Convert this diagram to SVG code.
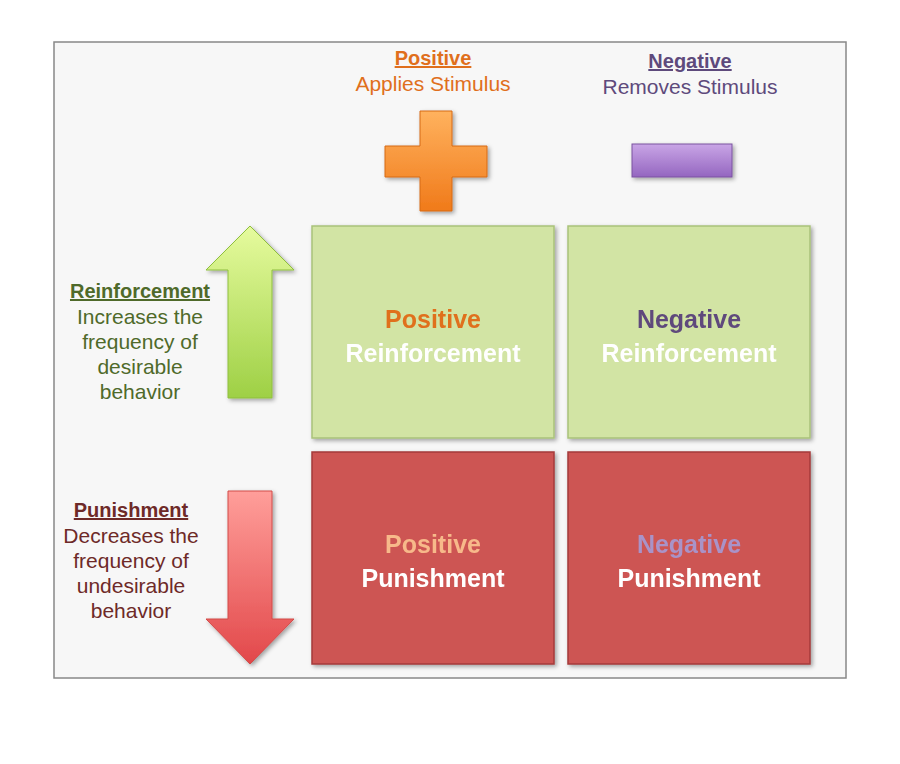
<svg xmlns="http://www.w3.org/2000/svg" width="900" height="764" viewBox="0 0 900 764">
<defs>
<linearGradient id="gOr" x1="0" y1="0" x2="0" y2="1"><stop offset="0" stop-color="#ffb25e"/><stop offset="1" stop-color="#f07a1a"/></linearGradient>
<linearGradient id="gPu" x1="0" y1="0" x2="0" y2="1"><stop offset="0" stop-color="#c9a5e6"/><stop offset="1" stop-color="#9466c0"/></linearGradient>
<linearGradient id="gGr" x1="0" y1="0" x2="0" y2="1"><stop offset="0" stop-color="#e6fb9e"/><stop offset="1" stop-color="#9ed045"/></linearGradient>
<linearGradient id="gRd" x1="0" y1="0" x2="0" y2="1"><stop offset="0" stop-color="#ff9e9a"/><stop offset="1" stop-color="#e2484a"/></linearGradient>
<filter id="sh" x="-10%" y="-10%" width="130%" height="130%"><feDropShadow dx="2" dy="2" stdDeviation="2" flood-opacity="0.35"/></filter>
</defs>
<style>
text{font-family:"Liberation Sans",Arial,sans-serif;text-anchor:middle}
.h{font-size:20px;font-weight:bold;text-decoration:underline}
.s{font-size:21px}
.b{font-size:25px;font-weight:bold}
.green{fill:#d2e4a4;stroke:#a9c27a;stroke-width:1.5}
.red{fill:#cd5553;stroke:#a43b3a;stroke-width:1.5}
</style>
<rect width="900" height="764" fill="#ffffff"/>
<rect x="54" y="42" width="792" height="636" fill="#f7f7f7" stroke="#888" stroke-width="1.5"/>
<g id="positive-header"><text x="433" y="65" class="h" fill="#e06f1c">Positive</text><text x="433" y="91" class="s" fill="#e06f1c">Applies Stimulus</text></g>
<g id="negative-header"><text x="690" y="68" class="h" fill="#5e4a7c">Negative</text><text x="690" y="94" class="s" fill="#5e4a7c">Removes Stimulus</text></g>
<g id="plus" filter="url(#sh)"><path d="M420 111H452V146H487V177H452V211H420V177H385V146H420Z" fill="url(#gOr)" stroke="#d66b15"/></g>
<g id="minus" filter="url(#sh)"><rect x="632" y="144" width="100" height="33" fill="url(#gPu)" stroke="#7a52a0"/></g>
<g id="reinforcement-label" fill="#4f6a2a"><text x="140" y="298" class="h">Reinforcement</text><text x="140" y="324" class="s">Increases the</text><text x="140" y="349" class="s">frequency of</text><text x="140" y="374" class="s">desirable</text><text x="140" y="399" class="s">behavior</text></g>
<g id="punishment-label" fill="#6e2a28"><text x="131" y="517" class="h">Punishment</text><text x="131" y="543" class="s">Decreases the</text><text x="131" y="568" class="s">frequency of</text><text x="131" y="593" class="s">undesirable</text><text x="131" y="618" class="s">behavior</text></g>
<g id="up-arrow" filter="url(#sh)"><path d="M250 226L294 270H272V398H228V270H206Z" fill="url(#gGr)" stroke="#8fbf3e"/></g>
<g id="down-arrow" filter="url(#sh)"><path d="M228 491H272V619H294L250 664L206 619H228Z" fill="url(#gRd)" stroke="#d24a48"/></g>
<g id="pos-reinf" filter="url(#sh)"><rect x="312" y="226" width="242" height="212" class="green"/><text x="433" y="328" class="b" fill="#e06f1c">Positive</text><text x="433" y="362" class="b" fill="#ffffff">Reinforcement</text></g>
<g id="neg-reinf" filter="url(#sh)"><rect x="568" y="226" width="242" height="212" class="green"/><text x="689" y="328" class="b" fill="#5e4a7c">Negative</text><text x="689" y="362" class="b" fill="#ffffff">Reinforcement</text></g>
<g id="pos-pun" filter="url(#sh)"><rect x="312" y="452" width="242" height="212" class="red"/><text x="433" y="553" class="b" fill="#f7b98a">Positive</text><text x="433" y="587" class="b" fill="#ffffff">Punishment</text></g>
<g id="neg-pun" filter="url(#sh)"><rect x="568" y="452" width="242" height="212" class="red"/><text x="689" y="553" class="b" fill="#a993c8">Negative</text><text x="689" y="587" class="b" fill="#ffffff">Punishment</text></g>
<g id="connectors"/>
</svg>
